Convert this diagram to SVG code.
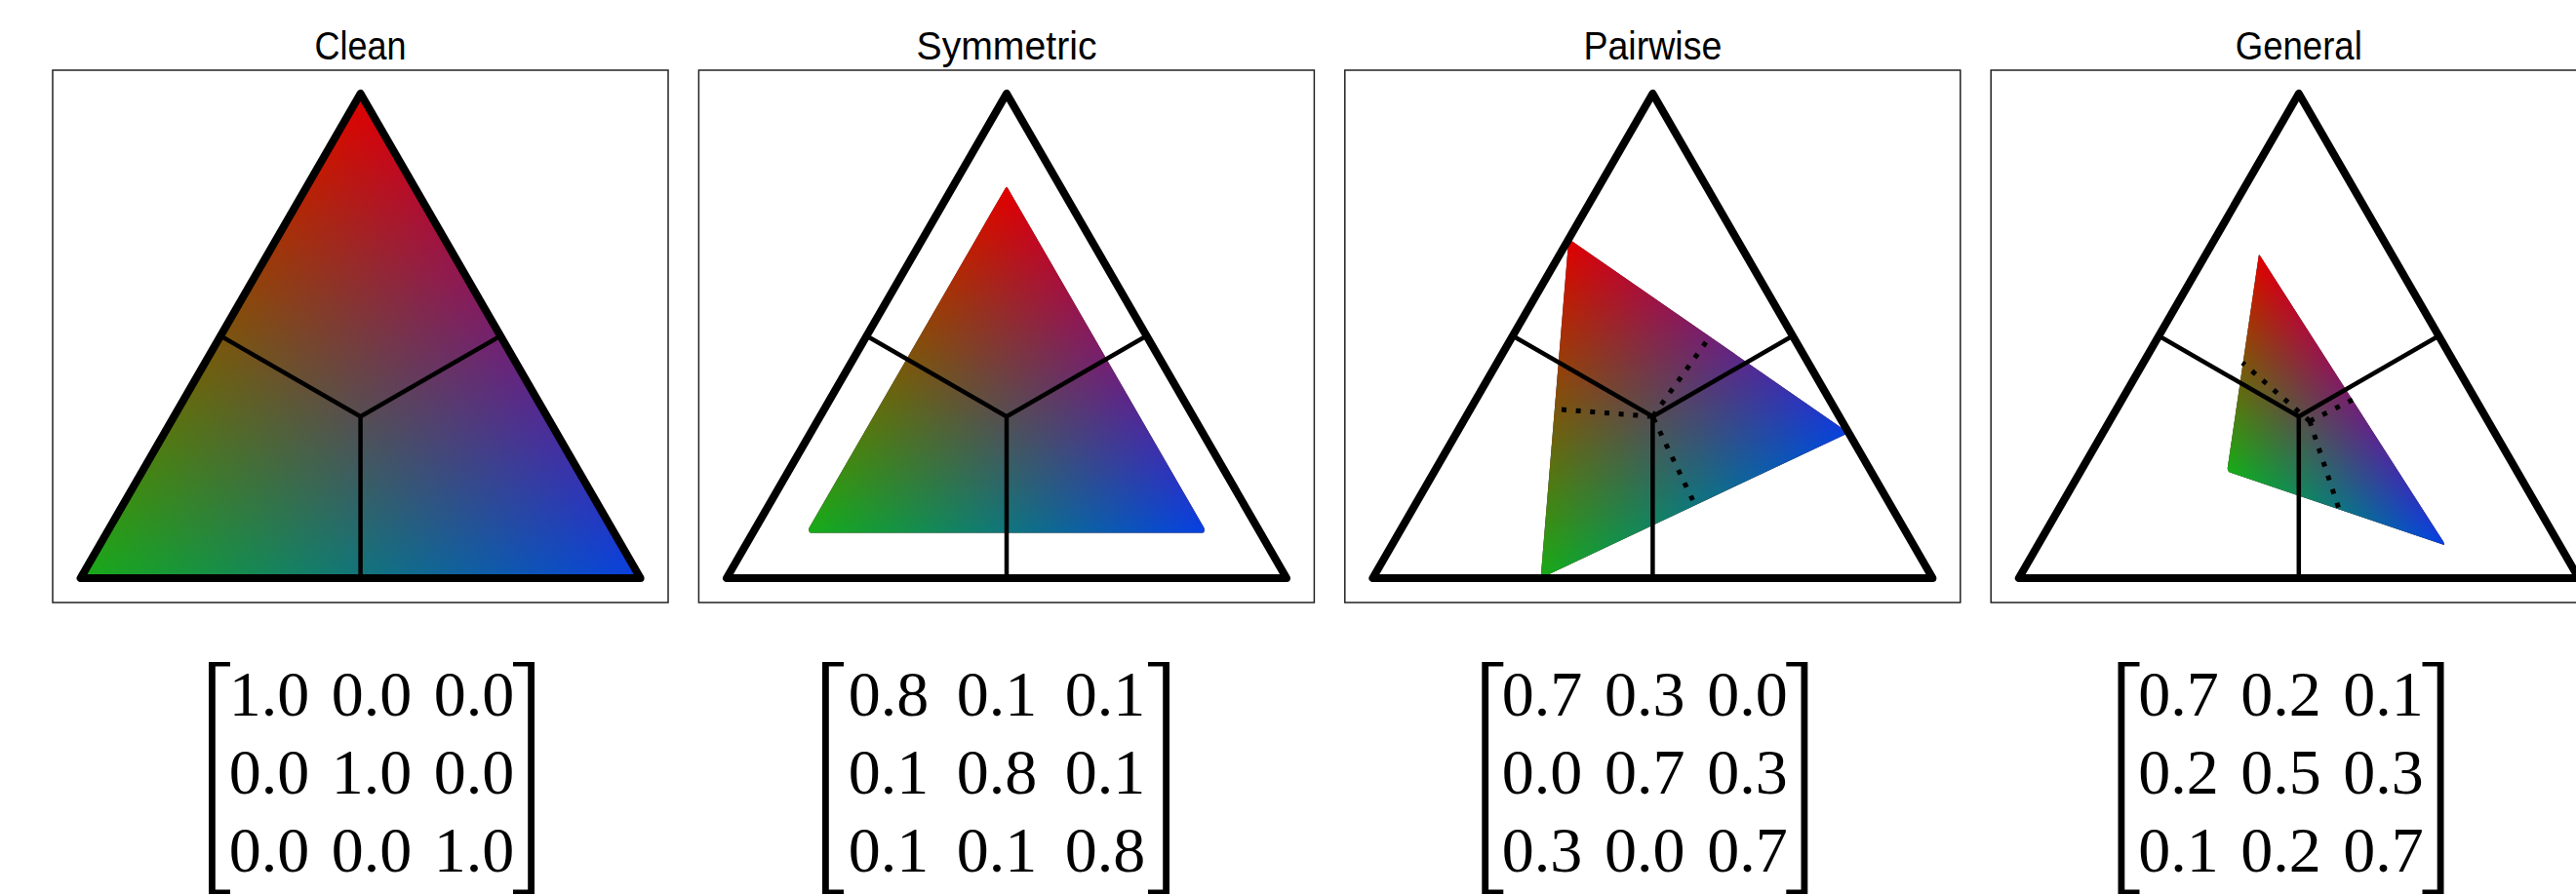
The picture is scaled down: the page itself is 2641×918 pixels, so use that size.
<svg xmlns="http://www.w3.org/2000/svg" width="2641" height="918" viewBox="0 0 2641 918">
<style>
.frame{fill:none;stroke:#222;stroke-width:1.5}
.outer{fill:none;stroke:#000;stroke-width:8;stroke-linejoin:round;stroke-linecap:round}
.mid{fill:none;stroke:#000;stroke-width:4.5}
.dot{fill:none;stroke:#000;stroke-width:5;stroke-dasharray:5 9.7}
.title{font-family:"Liberation Sans",Arial,sans-serif;font-size:41px;text-anchor:middle;fill:#000}
.num{font-family:"Liberation Serif","Times New Roman",serif;font-size:66px;text-anchor:middle;fill:#000}
.br{fill:#000}
.cs{stroke-width:1.3;stroke-linejoin:round}
</style>
<defs>
<linearGradient id="gx" gradientUnits="userSpaceOnUse" x1="0" y1="0" x2="100" y2="0"><stop offset="0" stop-color="#000"/><stop offset="1" stop-color="#f00"/></linearGradient>
<linearGradient id="gy" gradientUnits="userSpaceOnUse" x1="0" y1="0" x2="0" y2="100"><stop offset="0" stop-color="#000"/><stop offset="1" stop-color="#0f0"/></linearGradient>
<filter id="bary" filterUnits="userSpaceOnUse" x="0" y="0" width="2641" height="918" color-interpolation-filters="sRGB">
<feColorMatrix type="matrix" values="-0.7843 -0.8471 0 0.8784 0  0.6667 0.2510 0 0 0  0.0941 0.8784 0 0 0  0 0 0 1 0"/>
</filter>
<path id="tri" d="M0 0L100 0L0 100Z"/>
</defs>

<g id="panel-clean">
<rect class="frame" x="54" y="72" width="631" height="546"/>
<text class="title" x="369.6" y="60.5" textLength="94" lengthAdjust="spacingAndGlyphs">Clean</text>
<g filter="url(#bary)" style="isolation:isolate">
<g transform="matrix(-2.87 4.97 2.87 4.97 369.6 96)">
<use href="#tri" fill="url(#gx)"/>
<use href="#tri" fill="url(#gy)" style="mix-blend-mode:screen"/>
</g>
</g>
<path class="mid" d="M369.6 427.3L226.1 344.5M369.6 427.3L513.1 344.5M369.6 427.3L369.6 593"/>
<path class="outer" d="M369.6 96L82.6 593L656.6 593Z"/>
</g>

<g id="panel-symmetric">
<rect class="frame" x="716.4" y="72" width="631" height="546"/>
<text class="title" x="1032" y="60.5" textLength="185" lengthAdjust="spacingAndGlyphs">Symmetric</text>
<g filter="url(#bary)" style="isolation:isolate">
<g transform="matrix(-2.009 3.479 2.009 3.479 1032 195.4)">
<use href="#tri" class="cs" fill="url(#gx)" stroke="url(#gx)"/>
<use href="#tri" class="cs" fill="url(#gy)" stroke="url(#gy)" style="mix-blend-mode:screen"/>
</g>
</g>
<path class="mid" d="M1032 427.3L888.5 344.5M1032 427.3L1175.5 344.5M1032 427.3L1032 593"/>
<path class="outer" d="M1032 96L745 593L1319 593Z"/>
</g>

<g id="panel-pairwise">
<rect class="frame" x="1378.8" y="72" width="631" height="546"/>
<text class="title" x="1694.4" y="60.5" textLength="142" lengthAdjust="spacingAndGlyphs">Pairwise</text>
<g filter="url(#bary)" style="isolation:isolate">
<g transform="matrix(-0.287 3.479 2.87 1.988 1608.3 245.1)">
<use href="#tri" fill="url(#gx)"/>
<use href="#tri" fill="url(#gy)" style="mix-blend-mode:screen"/>
</g>
</g>
<path class="mid" d="M1694.4 427.3L1550.9 344.5M1694.4 427.3L1837.9 344.5M1694.4 427.3L1694.4 593"/>
<path class="dot" d="M1601 420L1694.4 427.3M1749 351L1694.4 427.3M1735.5 513L1694.4 427.3"/>
<path class="outer" d="M1694.4 96L1407.4 593L1981.4 593Z"/>
</g>

<g id="panel-general">
<rect class="frame" x="2041.2" y="72" width="631" height="546"/>
<text class="title" x="2356.8" y="60.5" textLength="130" lengthAdjust="spacingAndGlyphs">General</text>
<g filter="url(#bary)" style="isolation:isolate">
<g transform="matrix(-0.32 2.18 1.875 2.925 2317 264)">
<use href="#tri" class="cs" fill="url(#gx)" stroke="url(#gx)"/>
<use href="#tri" class="cs" fill="url(#gy)" stroke="url(#gy)" style="mix-blend-mode:screen"/>
</g>
</g>
<path class="mid" d="M2356.8 427.3L2213.3 344.5M2356.8 427.3L2500.3 344.5M2356.8 427.3L2356.8 593"/>
<path class="dot" d="M2368 432L2299 372M2368 432L2412 410M2368 432L2397.5 520.5"/>
<path class="outer" d="M2356.8 96L2069.8 593L2643.8 593Z"/>
</g>

<g id="matrix-clean">
<path class="br" d="M214 679H236V683.5H220.8V912.5H236V917H214Z"/>
<path class="br" d="M548 679H526V683.5H541.2V912.5H526V917H548Z"/>
<text class="num" y="734"><tspan x="276">1.0</tspan><tspan x="381">0.0</tspan><tspan x="486">0.0</tspan></text>
<text class="num" y="814"><tspan x="276">0.0</tspan><tspan x="381">1.0</tspan><tspan x="486">0.0</tspan></text>
<text class="num" y="894"><tspan x="276">0.0</tspan><tspan x="381">0.0</tspan><tspan x="486">1.0</tspan></text>
</g>

<g id="matrix-symmetric">
<path class="br" d="M843 679H865V683.5H849.8V912.5H865V917H843Z"/>
<path class="br" d="M1199 679H1177V683.5H1192.2V912.5H1177V917H1199Z"/>
<text class="num" y="734"><tspan x="911">0.8</tspan><tspan x="1022">0.1</tspan><tspan x="1133">0.1</tspan></text>
<text class="num" y="814"><tspan x="911">0.1</tspan><tspan x="1022">0.8</tspan><tspan x="1133">0.1</tspan></text>
<text class="num" y="894"><tspan x="911">0.1</tspan><tspan x="1022">0.1</tspan><tspan x="1133">0.8</tspan></text>
</g>

<g id="matrix-pairwise">
<path class="br" d="M1519.3 679H1541.3V683.5H1526.1V912.5H1541.3V917H1519.3Z"/>
<path class="br" d="M1853.3 679H1831.3V683.5H1846.5V912.5H1831.3V917H1853.3Z"/>
<text class="num" y="734"><tspan x="1581">0.7</tspan><tspan x="1686.3">0.3</tspan><tspan x="1791.6">0.0</tspan></text>
<text class="num" y="814"><tspan x="1581">0.0</tspan><tspan x="1686.3">0.7</tspan><tspan x="1791.6">0.3</tspan></text>
<text class="num" y="894"><tspan x="1581">0.3</tspan><tspan x="1686.3">0.0</tspan><tspan x="1791.6">0.7</tspan></text>
</g>

<g id="matrix-general">
<path class="br" d="M2171.5 679H2193.5V683.5H2178.3V912.5H2193.5V917H2171.5Z"/>
<path class="br" d="M2505.5 679H2483.5V683.5H2498.7V912.5H2483.5V917H2505.5Z"/>
<text class="num" y="734"><tspan x="2233.5">0.7</tspan><tspan x="2338.5">0.2</tspan><tspan x="2443.5">0.1</tspan></text>
<text class="num" y="814"><tspan x="2233.5">0.2</tspan><tspan x="2338.5">0.5</tspan><tspan x="2443.5">0.3</tspan></text>
<text class="num" y="894"><tspan x="2233.5">0.1</tspan><tspan x="2338.5">0.2</tspan><tspan x="2443.5">0.7</tspan></text>
</g>
</svg>
